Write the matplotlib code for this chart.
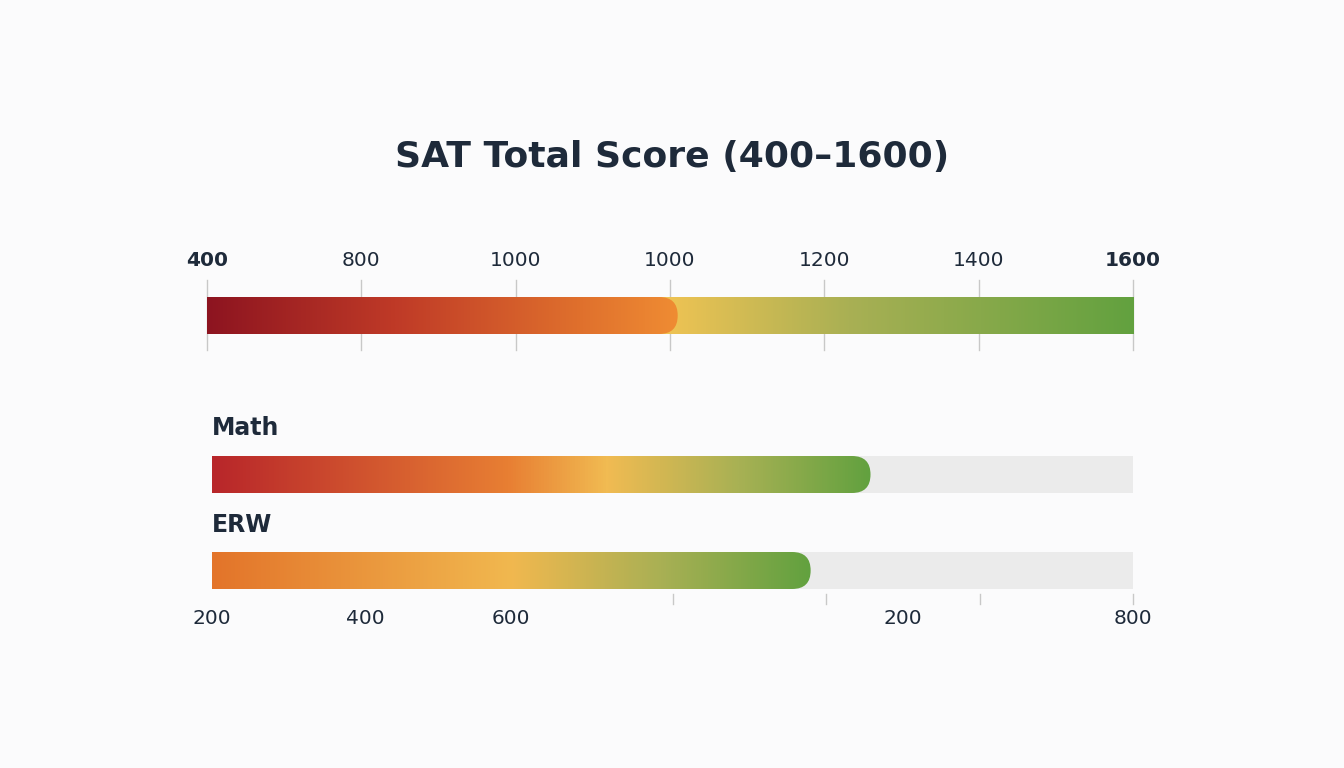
import numpy as np
import matplotlib.pyplot as plt
from matplotlib.colors import LinearSegmentedColormap
from matplotlib.patches import FancyBboxPatch, Rectangle

# data
title = 'SAT Total Score (400\u20131600)'
total_labels = ['400', '800', '1000', '1000', '1200', '1400', '1600']
total_marker = 3.05          # position of the knob, in tick steps (0..6)
sections = ['Math', 'ERW']
section_scores = [629, 590]  # 200..800 scale
section_min, section_max = 200, 800
bottom_tick_pos = [3, 4, 5, 6]            # tick marks, in steps of 100 (0..6)
bottom_label_pos = [0, 1, 1.95, 4.5, 6]
bottom_labels = ['200', '400', '600', '200', '800']

W, H = 1344, 768
fig = plt.figure(figsize=(W / 100, H / 100), dpi=100)
fig.patch.set_facecolor('#fbfbfc')
bg = fig.add_axes([0, 0, 1, 1])
bg.set_xlim(0, W)
bg.set_ylim(H, 0)
bg.axis('off')

dark = '#1e2a3a'
bg.text(672, 157, title, ha='center', va='center', fontsize=26,
        fontweight='bold', color=dark)


def bar_axes(x0, x1, y0, y1):
    ax = fig.add_axes([x0 / W, 1 - y1 / H, (x1 - x0) / W, (y1 - y0) / H])
    ax.set_xlim(0, x1 - x0)
    ax.set_ylim(0, y1 - y0)
    ax.axis('off')
    return ax


def rounded(ax, x1, h):
    # left end pushed outside the axes so only the right end shows rounded
    p = FancyBboxPatch((-h, 0), x1 + h, h, boxstyle='round,pad=0,rounding_size=%f' % (h / 2),
                       transform=ax.transData, facecolor='none', edgecolor='none')
    ax.add_patch(p)
    return p


def gradient(ax, stops, x0, x1, clip, z=2):
    cmap = LinearSegmentedColormap.from_list('g', stops)
    img = ax.imshow(np.linspace(0, 1, 512)[None, :], cmap=cmap, aspect='auto',
                    extent=[x0, x1, 0, ax.get_ylim()[1]], zorder=z)
    img.set_clip_path(clip)


# top axis
tx0, tx1 = 207, 1133
tw, bh = tx1 - tx0, 37
tick_px = [tx0 + i * tw / (len(total_labels) - 1) for i in range(len(total_labels))]
for i, (px, lab) in enumerate(zip(tick_px, total_labels)):
    bg.plot([px, px], [280, 350], color='#c8c8c8', lw=1, zorder=0)
    bold = i in (0, len(total_labels) - 1)
    bg.text(px, 261, lab, ha='center', va='center', fontsize=14.5,
            fontweight='bold' if bold else 'normal', color=dark)

ax = bar_axes(tx0, tx1, 297, 297 + bh)
full = Rectangle((0, 0), tw, bh, transform=ax.transData, facecolor='none', edgecolor='none')
ax.add_patch(full)
kx = total_marker / (len(total_labels) - 1) * tw
cmap_r = LinearSegmentedColormap.from_list('r', [(0, '#f2c453'), (0.4, '#a9b054'), (1, '#62a13f')])
ax.imshow(np.linspace(0, 1, 512)[None, :], cmap=cmap_r, aspect='auto',
          extent=[kx - 20, tw, 0, bh], zorder=1)
knob = rounded(ax, kx, bh)
gradient(ax, [(0, '#8d1420'), (0.4, '#bf3a27'), (0.8, '#e0712d'), (1, '#ef8c33')], 0, kx, knob)

# section bars
sx0, sx1 = 212, 1133
sw = sx1 - sx0
section_stops = [
    [(0, '#b8262a'), (0.45, '#e87f33'), (0.6, '#f1bb52'), (0.8, '#a8b154'), (1, '#62a13f')],
    [(0, '#e3742a'), (0.5, '#f1b84f'), (0.75, '#a9b054'), (1, '#62a13f')],
]
label_y = [428, 525]
bar_y = [456, 552]
for name, score, stops, ly, by in zip(sections, section_scores, section_stops, label_y, bar_y):
    bg.text(sx0, ly, name, ha='left', va='center', fontsize=17, fontweight='bold', color=dark)
    ax = bar_axes(sx0, sx1, by, by + bh)
    ax.add_patch(Rectangle((0, 0), sw, bh, facecolor='#ebebeb', zorder=1))
    fx = (score - section_min) / (section_max - section_min) * sw
    clip = rounded(ax, fx, bh)
    gradient(ax, stops, 0, fx, clip)

step = sw / 6
for p in bottom_tick_pos:
    px = sx0 + p * step
    bg.plot([px, px], [594, 604], color='#c8c8c8', lw=1, zorder=0)
for p, lab in zip(bottom_label_pos, bottom_labels):
    bg.text(sx0 + p * step, 619, lab, ha='center', va='center', fontsize=14.5, color=dark)

fig.savefig('out.png', dpi=100, facecolor=fig.get_facecolor())
